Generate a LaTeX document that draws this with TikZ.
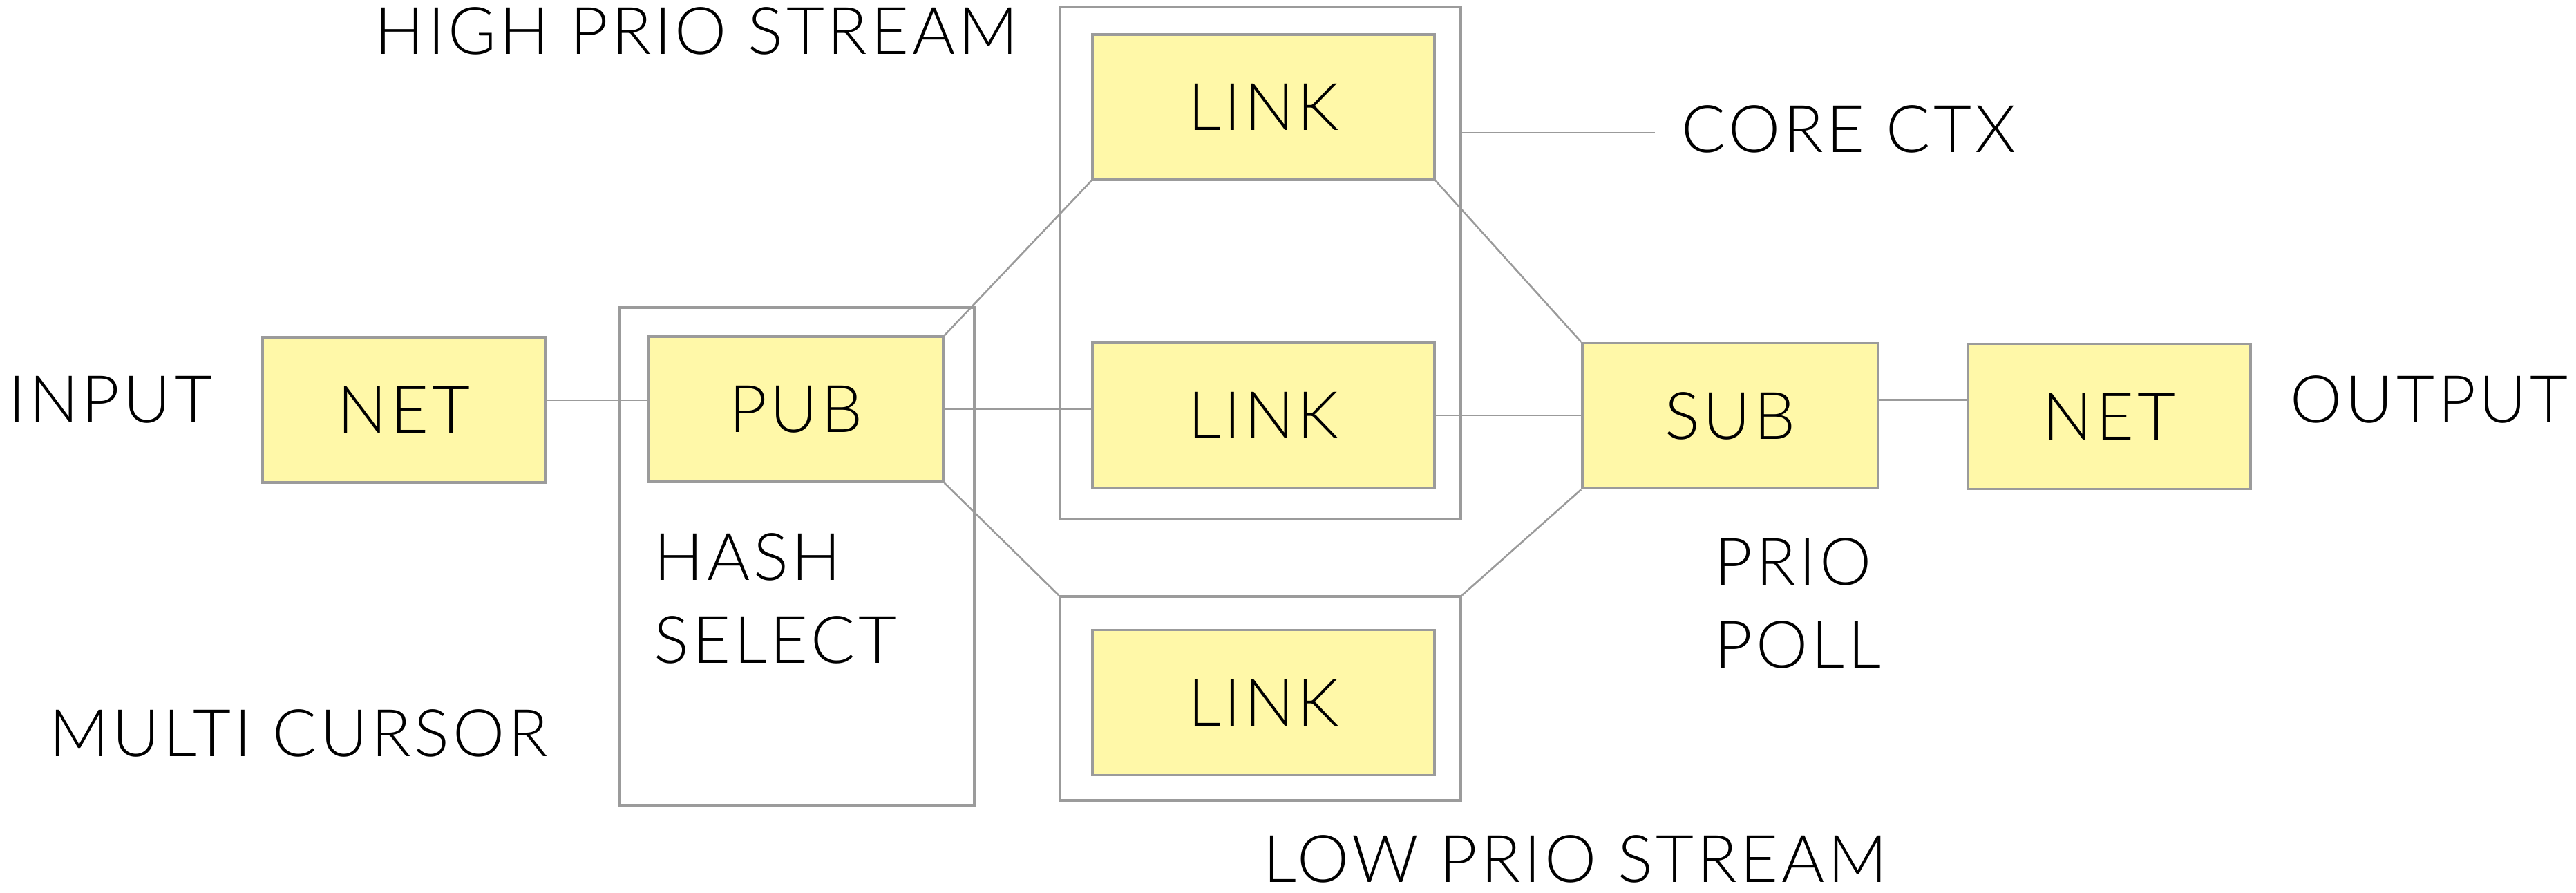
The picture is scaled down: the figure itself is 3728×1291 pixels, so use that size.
\documentclass[tikz,border=0pt]{standalone}
\usepackage{fontspec}
\setmainfont{Lato Light}[LetterSpace=5]
\usetikzlibrary{calc}

\definecolor{boxfill}{RGB}{255,248,168}
\definecolor{boxgray}{RGB}{155,155,155}

\begin{document}
\begin{tikzpicture}[
	x = 0.01cm, y = -0.01cm,
	font = \fontsize{27}{34}\selectfont,
	every node/.style = {inner sep=0pt},
	block/.style = {draw=boxgray, fill=boxfill, line width=1pt, minimum width=4.09cm, minimum height=2.1cm},
	group/.style = {draw=boxgray, line width=1pt},
	wire/.style = {draw=boxgray, line width=0.75pt},
	lbl/.style = {anchor=west},
	note/.style = {anchor=north west, align=left}
	]

	\useasboundingbox (0,0) rectangle (3728,1291);

	% outer frames
	\node[group, minimum width=5.14cm, minimum height=7.2cm] (cursor) at (1153,805) {};
	\node[group, minimum width=5.8cm, minimum height=7.41cm] (highbox) at (1824,380.5) {};
	\node[group, minimum width=5.8cm, minimum height=2.95cm] (lowbox) at (1824,1010.5) {};

	% blocks
	\node[block] (netin) at (584.5,593) {NET};
	\node[block, minimum width=4.26cm] (pub) at (1152,592) {PUB};
	\node[block, minimum width=4.95cm] (linka) at (1828.5,155) {LINK};
	\node[block, minimum width=4.95cm] (linkb) at (1828.5,601) {LINK};
	\node[block, minimum width=4.95cm] (linkc) at (1828.5,1016.5) {LINK};
	\node[block, minimum width=4.28cm] (sub) at (2504,601.5) {SUB};
	\node[block] (netout) at (3052.5,602.5) {NET};

	% labels
	\node[lbl] (input) at (12,578) {INPUT};
	\node[lbl] (output) at (3314,578) {OUTPUT};
	\node[lbl] (high) at (542,45) {HIGH PRIO STREAM};
	\node[lbl] (low) at (1828,1243) {LOW PRIO STREAM};
	\node[lbl] (multi) at (71,1061) {MULTI CURSOR};
	\node[lbl] (ctx) at (2433,187) {CORE CTX};
	\node[note] (hash) at (946,771) {HASH\\SELECT};
	\node[note] (poll) at (2481,778) {PRIO\\POLL};

	% connectors
	\draw[wire] ([yshift=1.4mm]netin.east) -- ([yshift=1.4mm]netin.east -| pub.west);
	\draw[wire] (pub.east) -- (pub.east -| linkb.west);
	\draw[wire] (pub.north east) -- (linka.south west);
	\draw[wire] (pub.south east) -- (lowbox.north west);
	\draw[wire] (linka.south east) -- (sub.north west);
	\draw[wire] (linkb.east) -- (linkb.east -| sub.west);
	\draw[wire] (lowbox.north east) -- (sub.south west);
	\draw[wire] ([yshift=2.3mm]sub.east) -- ([yshift=2.3mm]sub.east -| netout.west);
	\draw[wire] (highbox.east |- 0,192) -- ([xshift=-3.8mm]ctx.west |- 0,192);
\end{tikzpicture}
\end{document}
